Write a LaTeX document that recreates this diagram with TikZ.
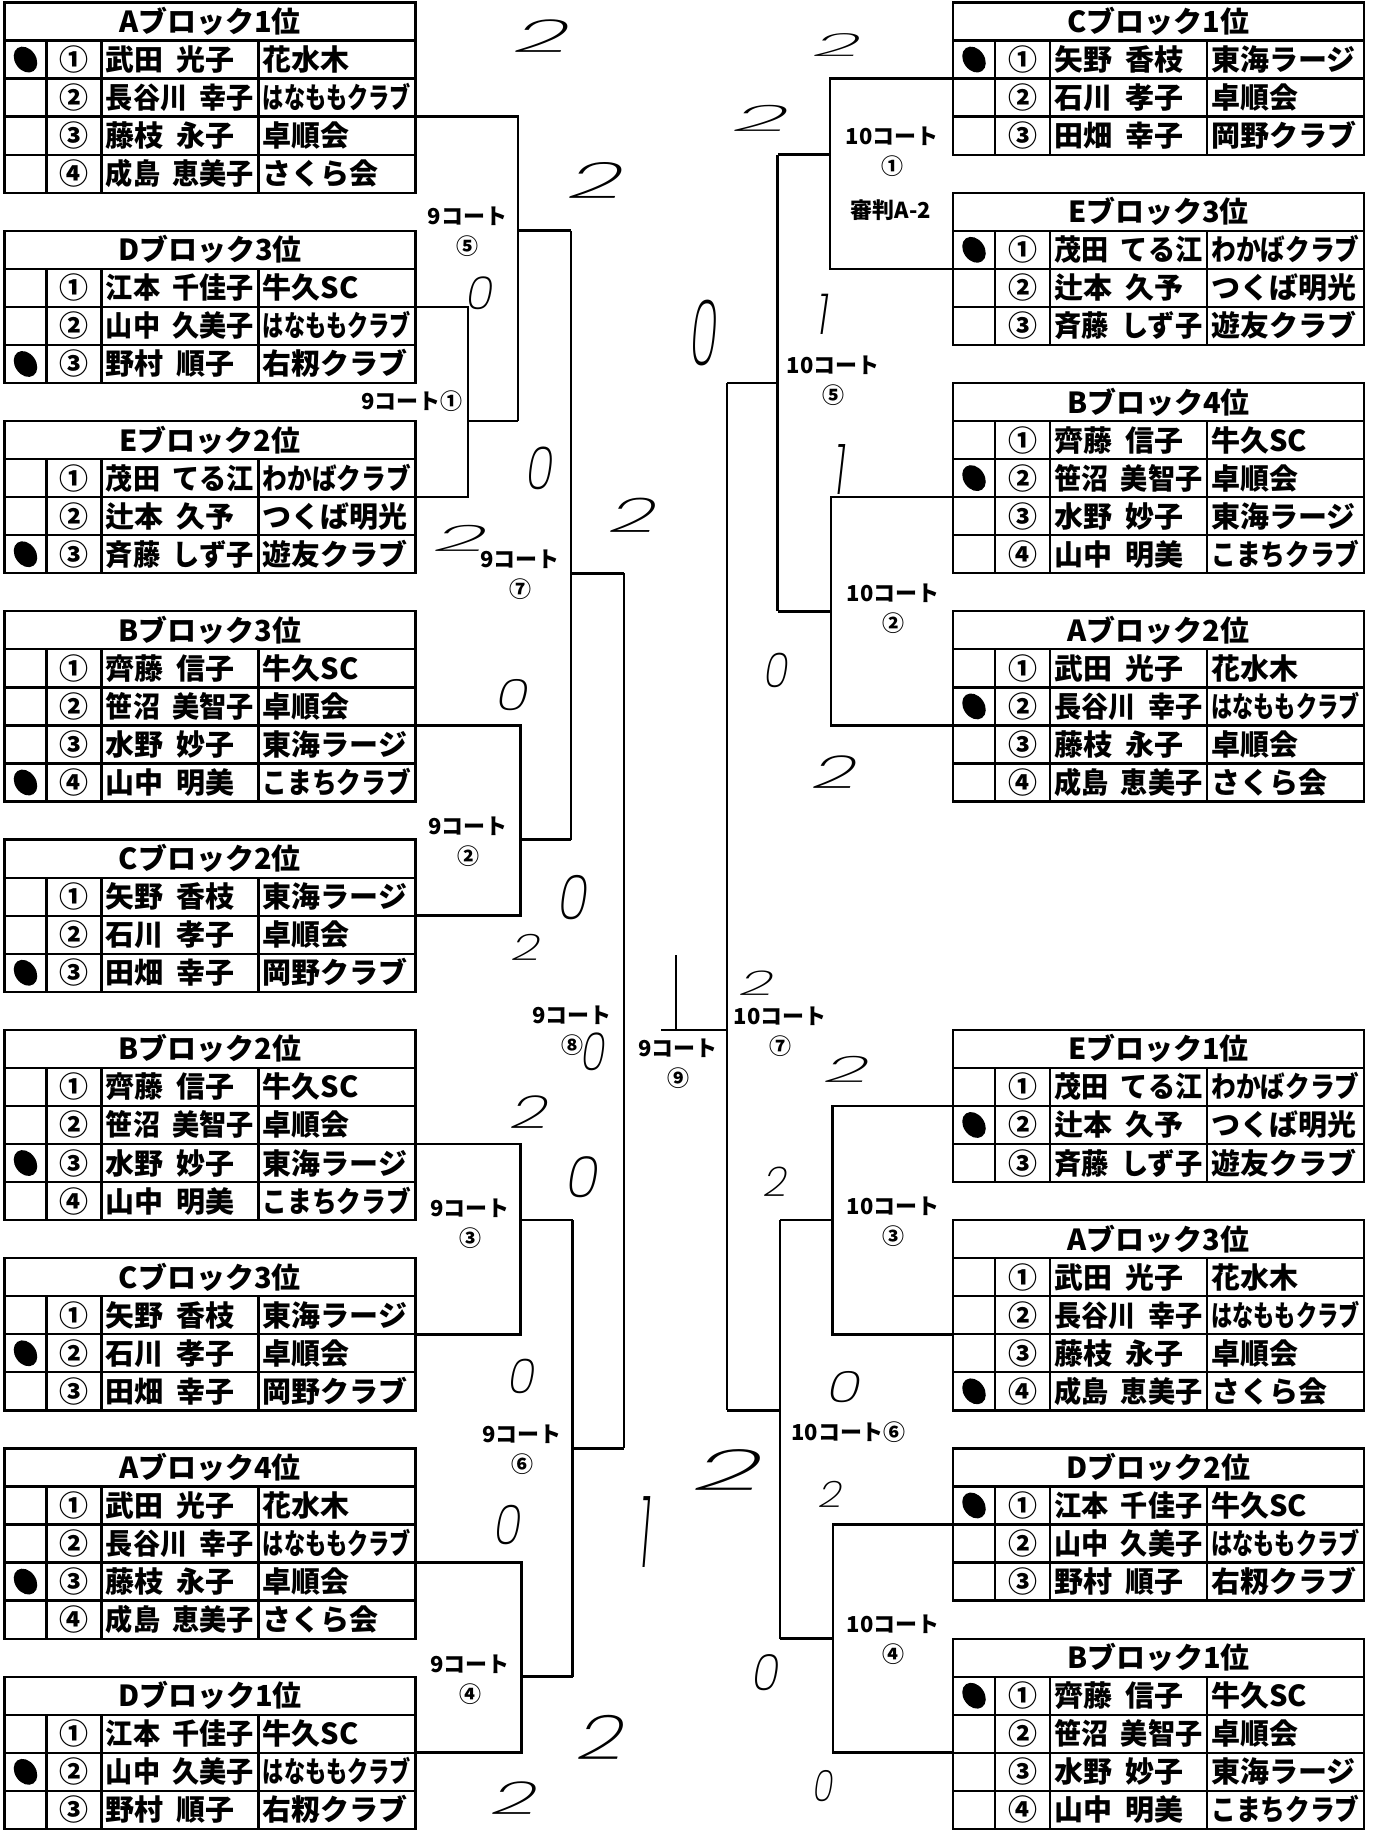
\documentclass[tikz,border=0pt]{standalone}
\usepackage{fontspec}
\usepackage{graphicx}
\usepackage{tikz}
\usetikzlibrary{positioning}
\newfontfamily\jp{Noto Sans CJK JP}
\newfontfamily\penfont{Poppins}[UprightFont={* ExtraLight Italic}]
\newcommand{\rowtop}[1]{2.5+(#1)*38.05}
\newcommand{\namefont}{\jp\bfseries\fontsize{16.5}{18}\selectfont\spaceskip=0.45em\relax}
\newsavebox\fitbox
\newlength\cellw
\setlength\cellw{2.96cm}
\newcommand{\squeeze}[1]{\sbox\fitbox{#1}%
  \ifdim\wd\fitbox>\cellw\resizebox{\cellw}{\ht\fitbox}{\usebox\fitbox}\else\usebox\fitbox\fi}
\newcommand{\blocktable}[6]{%
  \node[headcell] (#1) at (#2,{\rowtop{#3}}) {#4};
  \foreach \no/\who/\club [count=\i] in {#5} {
    \node[markcell] (#1m\i) at (#2,{\rowtop{#3+\i}}) {};
    \node[numcell, right=0pt of #1m\i] (#1n\i) {\no};
    \node[textcell, right=0pt of #1n\i] (#1p\i) {\makebox[\cellw][l]{\squeeze{\who}}};
    \node[textcell, right=0pt of #1p\i] (#1c\i) {\makebox[\cellw][l]{\squeeze{\club}}};
  }
  \fill (#1m#6.center) ellipse [x radius=0.21cm, y radius=0.28cm, rotate=35];
}

\begin{document}
\begin{tikzpicture}[x=0.02cm, y=-0.02cm,
    cell/.style={draw, line width=1.3pt, inner sep=0, outer sep=0, minimum height=0.761cm,
        font=\namefont, text height=14.5pt, text depth=2pt},
    headcell/.style={cell, anchor=north west, minimum width=8.22cm},
    markcell/.style={cell, anchor=north west, minimum width=0.84cm},
    numcell/.style={cell, minimum width=1.1cm},
    textcell/.style={cell, minimum width=3.14cm, inner xsep=0.09cm},
    bracket/.style={line width=1.5pt},
    court/.style={font=\jp\bfseries\fontsize{12.5}{17}\selectfont, inner sep=0, align=center},
    hand/.style={font=\penfont\fontsize{26}{26}\selectfont, inner sep=0},
]
    \useasboundingbox (0,0) rectangle (1376,1831);

    % 9 court side
    \blocktable{A1}{4.5}{0}{Aブロック1位}{①/武田 光子/花水木, ②/長谷川 幸子/はなももクラブ, ③/藤枝 永子/卓順会, ④/成島 恵美子/さくら会}{1}
    \blocktable{D3}{4.5}{6}{Dブロック3位}{①/江本 千佳子/牛久SC, ②/山中 久美子/はなももクラブ, ③/野村 順子/右籾クラブ}{3}
    \blocktable{E2}{4.5}{11}{Eブロック2位}{①/茂田 てる江/わかばクラブ, ②/辻本 久予/つくば明光, ③/斉藤 しず子/遊友クラブ}{3}
    \blocktable{B3}{4.5}{16}{Bブロック3位}{①/齊藤 信子/牛久SC, ②/笹沼 美智子/卓順会, ③/水野 妙子/東海ラージ, ④/山中 明美/こまちクラブ}{4}
    \blocktable{C2}{4.5}{22}{Cブロック2位}{①/矢野 香枝/東海ラージ, ②/石川 孝子/卓順会, ③/田畑 幸子/岡野クラブ}{3}
    \blocktable{B2}{4.5}{27}{Bブロック2位}{①/齊藤 信子/牛久SC, ②/笹沼 美智子/卓順会, ③/水野 妙子/東海ラージ, ④/山中 明美/こまちクラブ}{3}
    \blocktable{C3}{4.5}{33}{Cブロック3位}{①/矢野 香枝/東海ラージ, ②/石川 孝子/卓順会, ③/田畑 幸子/岡野クラブ}{2}
    \blocktable{A4}{4.5}{38}{Aブロック4位}{①/武田 光子/花水木, ②/長谷川 幸子/はなももクラブ, ③/藤枝 永子/卓順会, ④/成島 恵美子/さくら会}{3}
    \blocktable{D1}{4.5}{44}{Dブロック1位}{①/江本 千佳子/牛久SC, ②/山中 久美子/はなももクラブ, ③/野村 順子/右籾クラブ}{2}

    % 10 court side
    \blocktable{C1}{953}{0}{Cブロック1位}{①/矢野 香枝/東海ラージ, ②/石川 孝子/卓順会, ③/田畑 幸子/岡野クラブ}{1}
    \blocktable{E3}{953}{5}{Eブロック3位}{①/茂田 てる江/わかばクラブ, ②/辻本 久予/つくば明光, ③/斉藤 しず子/遊友クラブ}{1}
    \blocktable{B4}{953}{10}{Bブロック4位}{①/齊藤 信子/牛久SC, ②/笹沼 美智子/卓順会, ③/水野 妙子/東海ラージ, ④/山中 明美/こまちクラブ}{2}
    \blocktable{A2}{953}{16}{Aブロック2位}{①/武田 光子/花水木, ②/長谷川 幸子/はなももクラブ, ③/藤枝 永子/卓順会, ④/成島 恵美子/さくら会}{2}
    \blocktable{E1}{953}{27}{Eブロック1位}{①/茂田 てる江/わかばクラブ, ②/辻本 久予/つくば明光, ③/斉藤 しず子/遊友クラブ}{2}
    \blocktable{A3}{953}{32}{Aブロック3位}{①/武田 光子/花水木, ②/長谷川 幸子/はなももクラブ, ③/藤枝 永子/卓順会, ④/成島 恵美子/さくら会}{4}
    \blocktable{D2}{953}{38}{Dブロック2位}{①/江本 千佳子/牛久SC, ②/山中 久美子/はなももクラブ, ③/野村 順子/右籾クラブ}{1}
    \blocktable{B1}{953}{43}{Bブロック1位}{①/齊藤 信子/牛久SC, ②/笹沼 美智子/卓順会, ③/水野 妙子/東海ラージ, ④/山中 明美/こまちクラブ}{1}

    % bracket junctions
    \coordinate (m1) at (468,421);
    \coordinate (m5) at (518,230.8);
    \coordinate (m7) at (571,573.3);
    \coordinate (m2) at (520.5,839.6);
    \coordinate (m8) at (624,1030);
    \coordinate (m3) at (520.5,1220.1);
    \coordinate (m6) at (572.5,1448.4);
    \coordinate (m4) at (521.5,1676.7);
    \coordinate (r1) at (830,154.7);
    \coordinate (r5) at (777.5,383);
    \coordinate (r2) at (831,611.3);
    \coordinate (r7) at (727,1030);
    \coordinate (r3) at (832.5,1220.1);
    \coordinate (r6) at (780,1410.35);
    \coordinate (r4) at (833,1638.65);
    \coordinate (f9) at (661,1030);
    \coordinate (top9) at (676,955);

    \draw[bracket] (D3c1.south east) -| (m1) |- (E2c1.south east);
    \draw[bracket] (A1c2.south east) -| (m1 -| m5);
    \draw[bracket] (m1) -- (m1 -| m5);
    \draw[bracket] (m5) -- (m5 -| m7);
    \draw[bracket] (m5 -| m7) -- (m2 -| m7);
    \draw[bracket] (B3c2.south east) -| (m2) |- (C2c1.south east);
    \draw[bracket] (m2) -- (m2 -| m7);
    \draw[bracket] (m7) -- (m7 -| m8);
    \draw[bracket] (m7 -| m8) -- (m6 -| m8);
    \draw[bracket] (B2c2.south east) -| (m3) |- (C3c1.south east);
    \draw[bracket] (m3) -- (m3 -| m6);
    \draw[bracket] (m3 -| m6) -- (m4 -| m6);
    \draw[bracket] (A4c2.south east) -| (m4) |- (D1c1.south east);
    \draw[bracket] (m4) -- (m4 -| m6);
    \draw[bracket] (m6) -- (m6 -| m8);

    \draw[bracket] (C1m1.south west) -| (r1) |- (E3m1.south west);
    \draw[bracket] (r1) -- (r1 -| r5);
    \draw[bracket] (r1 -| r5) -- (r2 -| r5);
    \draw[bracket] (B4m2.south west) -| (r2) |- (A2m2.south west);
    \draw[bracket] (r2) -- (r2 -| r5);
    \draw[bracket] (r5) -- (r5 -| r7);
    \draw[bracket] (r5 -| r7) -- (r6 -| r7);
    \draw[bracket] (E1m1.south west) -| (r3) |- (A3m2.south west);
    \draw[bracket] (r3) -- (r3 -| r6);
    \draw[bracket] (r3 -| r6) -- (r4 -| r6);
    \draw[bracket] (D2m1.south west) -| (r4) |- (B1m2.south west);
    \draw[bracket] (r4) -- (r4 -| r6);
    \draw[bracket] (r6) -- (r6 -| r7);

    % final
    \draw[bracket] (f9) -- (r7);
    \draw[bracket] (top9) -- (top9 |- r7);

    % court labels
    \node[court] (c5) at (467.5,232) {9コート\\⑤};
    \node[court, anchor=east] (c1) at (463,401) {9コート①};
    \node[court] (c7) at (520,574.5) {9コート\\⑦};
    \node[court] (c2) at (468,842) {9コート\\②};
    \node[court] (c8) at (572,1031) {9コート\\⑧};
    \node[court] (c3) at (470,1224) {9コート\\③};
    \node[court] (c6) at (522,1450) {9コート\\⑥};
    \node[court] (c4) at (470,1679.5) {9コート\\④};
    \node[court] (c9) at (678,1063.5) {9コート\\⑨};
    \node[court] (d7) at (780,1032) {10コート\\⑦};
    \node[court] (d1) at (892,151.5) {10コート\\①};
    \node[court] (judge) at (891,210) {審判A-2};
    \node[court] (d5) at (833,381) {10コート\\⑤};
    \node[court] (d2) at (893,609) {10コート\\②};
    \node[court] (d3) at (893,1221.7) {10コート\\③};
    \node[court] (d6) at (848.6,1432) {10コート⑥};
    \node[court] (d4) at (893,1640) {10コート\\④};

    % scores
    \node[hand] (sa) at (543,36) {\scalebox{2.1}[1]{2}};
    \node[hand] (sb) at (597,180) {\scalebox{2.1}[1.1]{2}};
    \node[hand] (sc) at (480,293) {\scalebox{1}[1]{0}};
    \node[hand] (sd) at (704,333) {\scalebox{1}[2]{0}};
    \node[hand] (se) at (540,468) {\scalebox{1}[1.3]{0}};
    \node[hand] (sf) at (462,538) {\scalebox{2}[0.8]{2}};
    \node[hand] (sg) at (634,515) {\scalebox{1.8}[1.05]{2}};
    \node[hand] (sh) at (513,695) {\scalebox{1.2}[0.95]{0}};
    \node[hand] (si) at (574,898) {\scalebox{1.1}[1.35]{0}};
    \node[hand] (sj) at (527,947) {\scalebox{1.1}[0.8]{2}};
    \node[hand] (sk) at (594,1052) {\scalebox{0.9}[1.15]{0}};
    \node[hand] (sl) at (530,1112) {\scalebox{1.45}[1]{2}};
    \node[hand] (sm) at (583,1177) {\scalebox{1.2}[1.25]{0}};
    \node[hand] (sn) at (522,1376) {\scalebox{1}[1.05]{0}};
    \node[hand] (so) at (508,1525) {\scalebox{1}[1.2]{0}};
    \node[hand] (sp) at (645,1532) {\scalebox{1}[2.2]{1}};
    \node[hand] (sq) at (729,1470) {\scalebox{2.6}[1.25]{2}};
    \node[hand] (sr) at (602,1737) {\scalebox{1.8}[1.35]{2}};
    \node[hand] (ss) at (515,1798) {\scalebox{1.75}[1]{2}};
    \node[hand] (st) at (838,45) {\scalebox{1.8}[0.7]{2}};
    \node[hand] (su) at (762,118) {\scalebox{2.1}[0.8]{2}};
    \node[hand] (sv) at (823,314) {\scalebox{1}[1.25]{1}};
    \node[hand] (sw) at (840,470) {\scalebox{1}[1.55]{1}};
    \node[hand] (sx) at (777,670) {\scalebox{0.9}[1.05]{0}};
    \node[hand] (sy) at (836,772) {\scalebox{1.7}[1]{2}};
    \node[hand] (sz) at (757,983) {\scalebox{1.3}[0.75]{2}};
    \node[hand] (s27) at (848,1069) {\scalebox{1.7}[0.8]{2}};
    \node[hand] (s28) at (776,1182) {\scalebox{0.9}[0.9]{2}};
    \node[hand] (s29) at (845,1387) {\scalebox{1.25}[0.95]{0}};
    \node[hand] (s30) at (831,1494) {\scalebox{0.9}[0.8]{2}};
    \node[hand] (s31) at (766,1673) {\scalebox{1}[1.1]{0}};
    \node[hand] (s32) at (824,1786) {\scalebox{0.75}[0.95]{0}};
\end{tikzpicture}
\end{document}
